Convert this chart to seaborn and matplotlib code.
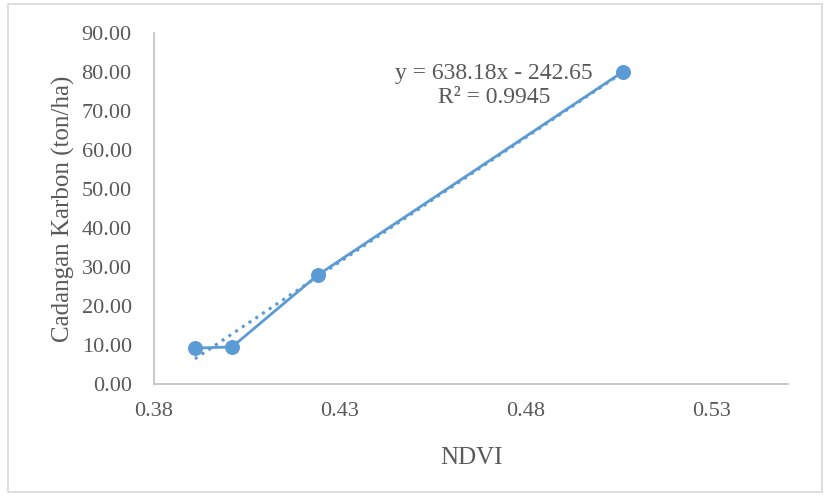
import pandas as pd
import numpy as np
import matplotlib
matplotlib.use("Agg")
import matplotlib.pyplot as plt
import seaborn as sns
from matplotlib.patches import Rectangle

# values
ndvi = [0.391, 0.401, 0.424, 0.506]
karbon = [9.2, 9.5, 27.9, 80.0]
x_ticks = [0.38, 0.43, 0.48, 0.53]
y_ticks = [0, 10, 20, 30, 40, 50, 60, 70, 80, 90]
eq_text = "y = 638.18x - 242.65"
r2_text = "R² = 0.9945"

df = pd.DataFrame({"NDVI": ndvi, "Karbon": karbon})

sns.set_style("white")
plt.rcParams["font.family"] = ["Liberation Serif", "DejaVu Serif"]

blue = "#5B9BD5"
grey = "#595959"
axis_grey = "#BFBFBF"

fig = plt.figure(figsize=(8.26, 4.97), dpi=100)
ax = fig.add_axes([0.1864, 0.2274, 0.954 - 0.1864, 0.9336 - 0.2274])

# chart border
fig.patches.append(Rectangle((8 / 826, 5 / 497), 814 / 826, 488 / 497,
                             transform=fig.transFigure, fill=False,
                             edgecolor="#D9D9D9", linewidth=1.2))

# dotted linear trendline
sns.regplot(x="NDVI", y="Karbon", data=df, ax=ax, scatter=False, ci=None,
            color=blue, line_kws={"linestyle": ":", "linewidth": 2.2})

sns.lineplot(x="NDVI", y="Karbon", data=df, ax=ax, color=blue, marker="o",
             markersize=10, linewidth=2.0, markeredgecolor=blue)

ax.set_xlim(0.38, 0.5505)
ax.set_ylim(0, 90)
ax.set_xticks(x_ticks)
ax.set_yticks(y_ticks)
ax.set_xticklabels([f"{v:.2f}" for v in x_ticks])
ax.set_yticklabels([f"{v:.2f}" for v in y_ticks])

for s in ["top", "right"]:
    ax.spines[s].set_visible(False)
for s in ["left", "bottom"]:
    ax.spines[s].set_color(axis_grey)
    ax.spines[s].set_linewidth(1.2)

ax.tick_params(axis="both", which="major", direction="out", length=5, width=1,
               color=axis_grey, labelsize=16, labelcolor=grey)
ax.tick_params(axis="y", pad=11)
ax.tick_params(axis="x", pad=8)

ax.set_xlabel("NDVI", fontsize=18, color=grey, labelpad=19)
ax.set_ylabel("Cadangan Karbon (ton/ha)", fontsize=18, color=grey, labelpad=5)

ax.text(0.4714, 79.7, eq_text, ha="center", va="center", fontsize=17, color=grey)
ax.text(0.4714, 73.4, r2_text, ha="center", va="center", fontsize=17, color=grey)

fig.savefig("out.png", dpi=100)
